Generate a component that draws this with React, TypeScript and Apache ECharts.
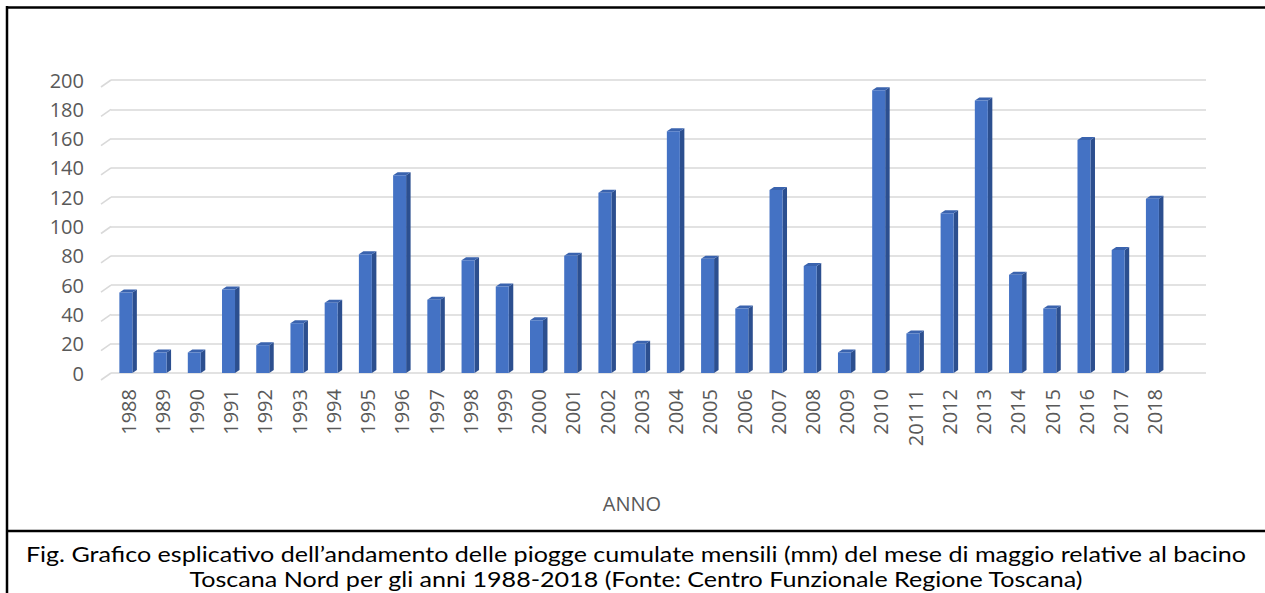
import React, { useEffect, useRef } from "react";
import * as echarts from "echarts";

const years: string[] = [
  "1988", "1989", "1990", "1991", "1992", "1993", "1994", "1995", "1996", "1997",
  "1998", "1999", "2000", "2001", "2002", "2003", "2004", "2005", "2006", "2007",
  "2008", "2009", "2010", "20111", "2012", "2013", "2014", "2015", "2016", "2017", "2018",
];
const rainfall: number[] = [
  55, 14, 14, 57, 19, 34, 48, 81, 135, 50,
  77, 59, 36, 80, 123, 20, 165, 78, 44, 125,
  73, 14, 193, 27, 109, 186, 67, 44, 159, 84, 119,
];
const yTicks: number[] = [0, 20, 40, 60, 80, 100, 120, 140, 160, 180, 200];
const xTitle = "ANNO";
const captionLine1 =
  "Fig. Grafico esplicativo dell’andamento delle piogge cumulate mensili (mm) del mese di maggio relative al bacino";
const captionLine2 =
  "Toscana Nord per gli anni 1988-2018 (Fonte: Centro Funzionale Regione Toscana)";

function measure(text: string, font: string): number {
  try {
    const ctx = document.createElement("canvas").getContext("2d");
    if (!ctx) return 0;
    ctx.font = font;
    return ctx.measureText(text).width;
  } catch (e) {
    return 0;
  }
}

export default function App() {
  const ref = useRef<HTMLDivElement>(null);
  useEffect(() => {
    if (!ref.current) return;
    const chart = echarts.init(ref.current, null, { renderer: "svg" });
    const labelFont = "'Open Sans', sans-serif";
    const capFont = "21px Lato, sans-serif";
    const w1 = measure(captionLine1, capFont);
    const capScale = w1 > 0 ? Math.max(0.9, Math.min(1.25, 1222 / w1)) : 1.12;
    chart.setOption({
      animation: false,
      backgroundColor: "#ffffff",
      grid: { left: 111, right: 59, top: 80, bottom: 220, containLabel: false },
      xAxis: {
        type: "category",
        data: years,
        max: years.length,
        boundaryGap: true,
        axisLine: { show: false },
        axisTick: { show: false },
        splitLine: { show: false },
        axisLabel: {
          rotate: 90,
          margin: 16,
          interval: 0,
          color: "#595959",
          fontSize: 20,
          fontFamily: labelFont,
        },
      },
      yAxis: {
        type: "value",
        min: 0,
        max: 200,
        interval: 20,
        axisLine: { show: false },
        axisTick: { show: false },
        splitLine: { show: true, lineStyle: { color: "#d9d9d9", width: 1.6 } },
        axisLabel: {
          margin: 27,
          color: "#595959",
          fontSize: 20,
          fontFamily: labelFont,
          padding: [12, 0, 0, 0],
        },
      },
      series: [
        {
          type: "custom",
          clip: false,
          data: yTicks.map((v) => [0, v]),
          encode: { x: 0, y: 1 },
          renderItem: (params: any, api: any) => {
            const p = api.coord([0, api.value(1)]);
            const band = api.size([1, 0])[0];
            const xl = p[0] - band / 2;
            return {
              type: "line",
              shape: { x1: xl - 10, y1: p[1] + 7, x2: xl, y2: p[1] },
              style: { stroke: "#d9d9d9", lineWidth: 1.6 },
            };
          },
        },
        {
          type: "custom",
          clip: false,
          data: rainfall.map((v, i) => [i, v]),
          encode: { x: 0, y: 1 },
          renderItem: (params: any, api: any) => {
            const idx = api.value(0);
            const v = api.value(1);
            const top = api.coord([idx, v]);
            const base = api.coord([idx, 0]);
            const fw = 13;
            const d = 4.5;
            const h = 3;
            const x0 = top[0] - (fw + d) / 2;
            const x1 = x0 + fw;
            const y0 = top[1];
            const y1 = base[1];
            return {
              type: "group",
              children: [
                {
                  type: "polygon",
                  shape: { points: [[x1, y0], [x1 + d, y0 - h], [x1 + d, y1 - h], [x1, y1]] },
                  style: { fill: "#2c4f8f" },
                },
                {
                  type: "polygon",
                  shape: { points: [[x0, y0], [x0 + d, y0 - h], [x1 + d, y0 - h], [x1, y0]] },
                  style: { fill: "#3a63ae" },
                },
                {
                  type: "rect",
                  shape: { x: x0, y: y0, width: fw, height: y1 - y0 },
                  style: { fill: "#4472c4" },
                },
              ],
            };
          },
        },
      ],
      graphic: [
        { type: "line", shape: { x1: 6, y1: 7.5, x2: 1265, y2: 7.5 }, style: { stroke: "#000", lineWidth: 2.5 } },
        { type: "line", shape: { x1: 7, y1: 6, x2: 7, y2: 593 }, style: { stroke: "#000", lineWidth: 2.5 } },
        { type: "line", shape: { x1: 6, y1: 531, x2: 1265, y2: 531 }, style: { stroke: "#000", lineWidth: 2.5 } },
        {
          type: "text",
          x: 632,
          y: 503,
          style: {
            text: xTitle,
            fill: "#595959",
            font: "20px 'Open Sans', sans-serif",
            textAlign: "center",
            textVerticalAlign: "middle",
          },
        },
        {
          type: "text",
          x: 636,
          y: 554,
          scaleX: capScale,
          style: {
            text: captionLine1,
            fill: "#000",
            font: capFont,
            textAlign: "center",
            textVerticalAlign: "middle",
          },
        },
        {
          type: "text",
          x: 636,
          y: 579,
          scaleX: capScale,
          style: {
            text: captionLine2,
            fill: "#000",
            font: capFont,
            textAlign: "center",
            textVerticalAlign: "middle",
          },
        },
      ],
    });
    return () => chart.dispose();
  }, []);
  return (
    <div
      ref={ref}
      style={{ position: "absolute", left: 0, top: 0, width: 1265, height: 593 }}
    />
  );
}
